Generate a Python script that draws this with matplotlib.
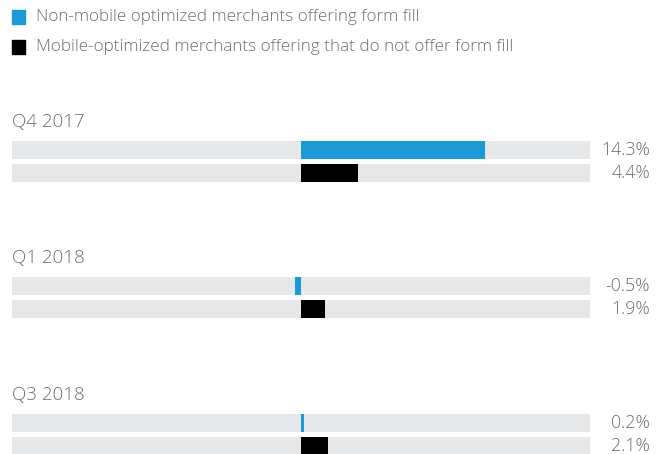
import matplotlib.pyplot as plt
from matplotlib.patches import Rectangle
from matplotlib.transforms import blended_transform_factory

plt.rcParams['font.family'] = ['Open Sans', 'DejaVu Sans']

quarters = ['Q4 2017', 'Q1 2018', 'Q3 2018']
non_mobile = [14.3, -0.5, 0.2]
mobile = [4.4, 1.9, 2.1]
legend_labels = ['Non-mobile optimized merchants offering form fill',
                 'Mobile-optimized merchants offering that do not offer form fill']

blue = '#1a9bd8'
black = '#000000'
track = '#e6e7e8'
txt = '#6d6e71'

W, H = 662, 454
fig = plt.figure(figsize=(W / 100, H / 100), dpi=100)

# bar area spans x=12..590 px, y in pixels (top down)
ax = fig.add_axes([12 / W, 0, 578 / W, 1])
ax.set_xlim(-22.5, 22.5)
ax.set_ylim(H, 0)
ax.axis('off')

group_top = [122, 258, 395]
bar_h = 18
trans = blended_transform_factory(ax.transAxes, ax.transData)

for i, q in enumerate(quarters):
    y0 = group_top[i]
    ax.text(0, y0, q, transform=trans, ha='left', va='center',
            fontsize=13.5, color=txt, fontweight='light')
    for j, (val, col) in enumerate([(non_mobile[i], blue), (mobile[i], black)]):
        yc = y0 + 28 + j * 23
        ax.barh(yc, 45, left=-22.5, height=bar_h, color=track)
        ax.barh(yc, val, left=0, height=bar_h, color=col)
        ax.text((650 - 12) / 578, yc, f'{val}%', transform=trans,
                ha='right', va='center', fontsize=12.8, color=txt,
                fontweight='light')

# legend
for k, (lab, col) in enumerate(zip(legend_labels, [blue, black])):
    yc = 17 + k * 30
    fig.patches.append(Rectangle((12 / W, 1 - (yc + 7) / H), 13 / W, 14 / H,
                                 transform=fig.transFigure, color=col))
    fig.text(36 / W, 1 - yc / H, lab, ha='left', va='center',
             fontsize=12.3, color=txt, fontweight='light')

fig.savefig('out.png', dpi=100)
